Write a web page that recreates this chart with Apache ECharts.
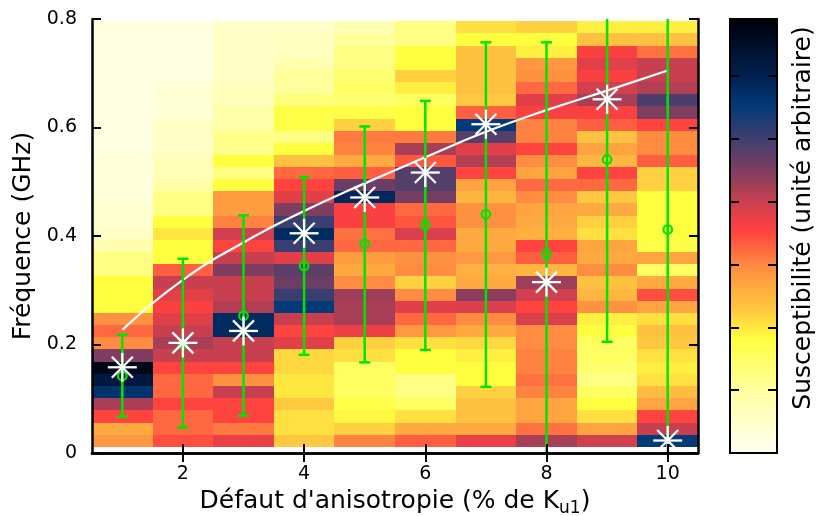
<!DOCTYPE html>
<html><head><meta charset="utf-8">
<script src="https://cdn.jsdelivr.net/npm/echarts@6/dist/echarts.min.js"></script>
<style>html,body{margin:0;padding:0;background:#fff}#c{width:816px;height:516px}</style>
</head><body><div id="c"></div>
<script>
// ---- data ----
const defects = [1, 2, 3, 4, 5, 6, 7, 8, 9, 10];
// heat-map row centres (GHz), listed from top row to bottom row
const freqRows = [0.785,0.762,0.740,0.718,0.695,0.673,0.650,0.628,0.605,0.583,0.561,0.538,0.516,0.494,0.471,0.449,0.426,0.404,0.381,0.359,0.337,0.314,0.292,0.269,0.247,0.224,0.202,0.180,0.157,0.135,0.112,0.090,0.067,0.045,0.022];
// susceptibility per column (arbitrary units 0..1), top row to bottom row
const col1  = [0.03,0.03,0.03,0.03,0.03,0.03,0.03,0.03,0.03,0.03,0.03,0.04,0.04,0.04,0.04,0.06,0.06,0.08,0.12,0.18,0.18,0.26,0.26,0.26,0.42,0.47,0.43,0.65,0.97,0.90,0.82,0.61,0.51,0.38,0.41];
const col2  = [0.03,0.03,0.03,0.03,0.03,0.05,0.05,0.05,0.08,0.08,0.08,0.10,0.10,0.13,0.18,0.18,0.26,0.29,0.26,0.26,0.48,0.58,0.55,0.52,0.55,0.58,0.61,0.58,0.51,0.47,0.47,0.51,0.47,0.47,0.50];
const col3  = [0.07,0.08,0.08,0.08,0.08,0.10,0.10,0.13,0.13,0.17,0.17,0.26,0.18,0.26,0.40,0.40,0.44,0.57,0.51,0.58,0.65,0.58,0.58,0.60,0.84,0.84,0.58,0.58,0.51,0.42,0.58,0.51,0.51,0.45,0.54];
const col4  = [0.07,0.09,0.09,0.12,0.15,0.15,0.19,0.25,0.25,0.18,0.26,0.34,0.47,0.51,0.55,0.65,0.73,0.84,0.73,0.55,0.69,0.67,0.73,0.80,0.58,0.51,0.55,0.31,0.31,0.29,0.29,0.33,0.30,0.30,0.33];
const col5  = [0.11,0.15,0.18,0.18,0.20,0.22,0.20,0.25,0.32,0.45,0.44,0.38,0.48,0.67,0.85,0.52,0.52,0.46,0.47,0.40,0.38,0.43,0.62,0.61,0.61,0.54,0.32,0.30,0.22,0.22,0.22,0.25,0.27,0.32,0.44];
const col6  = [0.18,0.18,0.26,0.26,0.32,0.28,0.22,0.26,0.26,0.45,0.61,0.49,0.70,0.70,0.66,0.47,0.49,0.56,0.47,0.42,0.43,0.32,0.43,0.55,0.47,0.41,0.30,0.26,0.26,0.18,0.18,0.22,0.30,0.38,0.48];
const col7  = [0.30,0.26,0.34,0.34,0.34,0.34,0.33,0.48,0.80,0.70,0.55,0.60,0.51,0.39,0.36,0.42,0.42,0.38,0.38,0.41,0.37,0.38,0.64,0.56,0.43,0.38,0.31,0.28,0.26,0.26,0.32,0.34,0.34,0.38,0.54];
const col8  = [0.32,0.26,0.28,0.41,0.42,0.47,0.55,0.52,0.44,0.44,0.51,0.43,0.39,0.47,0.43,0.39,0.38,0.37,0.51,0.48,0.36,0.62,0.57,0.51,0.56,0.43,0.43,0.44,0.44,0.46,0.44,0.39,0.39,0.46,0.61];
const col9  = [0.28,0.34,0.52,0.55,0.52,0.57,0.61,0.52,0.48,0.34,0.39,0.36,0.51,0.47,0.33,0.38,0.32,0.30,0.39,0.38,0.43,0.34,0.36,0.42,0.28,0.26,0.22,0.22,0.20,0.18,0.22,0.26,0.30,0.39,0.57];
const col10 = [0.28,0.34,0.46,0.58,0.58,0.60,0.71,0.65,0.51,0.43,0.43,0.48,0.32,0.32,0.26,0.26,0.26,0.26,0.25,0.39,0.22,0.38,0.50,0.39,0.30,0.34,0.33,0.30,0.28,0.30,0.35,0.39,0.51,0.58,0.80];
const columns = [col1,col2,col3,col4,col5,col6,col7,col8,col9,col10];

const fitLine  = [0.227,0.319,0.388,0.446,0.497,0.545,0.592,0.632,0.668,0.705];
const peakFreq = [0.158,0.203,0.225,0.405,0.471,0.517,0.606,0.315,0.652,0.023];
const meanFreq = [0.142,0.200,0.253,0.345,0.386,0.420,0.440,0.367,0.541,0.412];
const errLow   = [0.067,0.047,0.069,0.181,0.167,0.190,0.122,-0.10,0.205,-0.10];
const errHigh  = [0.218,0.358,0.438,0.509,0.602,0.649,0.757,0.757,0.950,0.950];
const xTickValues = [2, 4, 6, 8, 10];

// ---- styling ----
const ROW_H = 0.02244;
const GREEN = '#00e400';
const FONT = 'DejaVu Sans';
const stops = [
  [0.00,'#fffff2'],[0.145,'#ffffa0'],[0.26,'#ffff40'],[0.33,'#ffc840'],[0.43,'#ff8c40'],
  [0.515,'#ff4040'],[0.58,'#c84050'],[0.655,'#7a3e62'],[0.73,'#3a3e70'],[0.80,'#033a78'],
  [0.87,'#012050'],[1.00,'#000008']];
function hex(c){return [1,3,5].map(i=>parseInt(c.substr(i,2),16));}
function colorAt(p){
  for(let i=1;i<stops.length;i++){
    if(p<=stops[i][0]){
      const a=stops[i-1],b=stops[i],t=(p-a[0])/(b[0]-a[0]);
      const ca=hex(a[1]),cb=hex(b[1]);
      return 'rgb('+ca.map((v,k)=>Math.round(v+(cb[k]-v)*t)).join(',')+')';
    }
  }
  return stops[stops.length-1][1];
}
const palette=[];for(let i=0;i<=100;i++)palette.push(colorAt(i/100));

const heatData=[];
columns.forEach((col,ci)=>col.forEach((v,ri)=>heatData.push([defects[ci],freqRows[ri],v,ri])));
const errData=defects.map((d,i)=>[d,meanFreq[i],errLow[i],errHigh[i]]);
const starData=defects.map((d,i)=>[d,peakFreq[i]]);
const lineData=defects.map((d,i)=>[d,fitLine[i]]);

function rowTop(ri){return ri===0 ? freqRows[0]+ROW_H/2 : (freqRows[ri-1]+freqRows[ri])/2;}
function rowBottom(ri){return ri===freqRows.length-1 ? freqRows[ri]-ROW_H/2 : (freqRows[ri]+freqRows[ri+1])/2;}
function renderCell(params, api){
  const x=api.value(0), ri=api.value(3);
  const a=api.coord([x-0.5,rowTop(ri)]), b=api.coord([x+0.5,rowBottom(ri)]);
  const x0=Math.round(a[0]),y0=Math.round(a[1]),x1=Math.round(b[0]),y1=Math.round(b[1]);
  return {type:'rect',shape:{x:x0,y:y0,width:x1-x0,height:y1-y0},style:{fill:api.visual('color'),stroke:null}};
}
function renderErr(params, api){
  const x=api.value(0),m=api.value(1),lo=api.value(2),hi=api.value(3);
  const cl=v=>Math.max(0,Math.min(0.8,v));
  const pl=api.coord([x,cl(lo)]),ph=api.coord([x,cl(hi)]),pm=api.coord([x,m]);
  const st={stroke:GREEN,lineWidth:2.5};
  const ch=[{type:'line',shape:{x1:pl[0],y1:pl[1],x2:ph[0],y2:ph[1]},style:st}];
  if(lo>=0) ch.push({type:'line',shape:{x1:pl[0]-5.5,y1:pl[1],x2:pl[0]+5.5,y2:pl[1]},style:st});
  if(hi<=0.8) ch.push({type:'line',shape:{x1:ph[0]-5.5,y1:ph[1],x2:ph[0]+5.5,y2:ph[1]},style:st});
  ch.push({type:'circle',shape:{cx:pm[0],cy:pm[1],r:4.3},style:{fill:'none',stroke:GREEN,lineWidth:2.2}});
  return {type:'group',children:ch};
}
function renderStar(params, api){
  const p=api.coord([api.value(0),api.value(1)]);
  const s={stroke:'#fff',lineWidth:2.3};
  const h=14.5,d=10.5;
  return {type:'group',children:[
    {type:'line',shape:{x1:p[0]-h,y1:p[1],x2:p[0]+h,y2:p[1]},style:s},
    {type:'line',shape:{x1:p[0],y1:p[1]-h,x2:p[0],y2:p[1]+h},style:s},
    {type:'line',shape:{x1:p[0]-d,y1:p[1]-d,x2:p[0]+d,y2:p[1]+d},style:s},
    {type:'line',shape:{x1:p[0]-d,y1:p[1]+d,x2:p[0]+d,y2:p[1]-d},style:s}
  ]};
}

const axisLine={show:true,lineStyle:{color:'#000',width:2.5}};
const tickStyle={color:'#000',width:2};
const chart=echarts.init(document.getElementById('c'),null,{renderer:'canvas'});
chart.setOption({
  animation:false,
  backgroundColor:'#fff',
  textStyle:{fontFamily:FONT},
  grid:[
    {left:92,top:19,width:606,height:434,containLabel:false,outerBoundsMode:'none'},
    {left:730,top:19,width:47,height:434,show:true,borderColor:'#000',borderWidth:2,backgroundColor:'transparent',z:10,containLabel:false,outerBoundsMode:'none'}
  ],
  xAxis:[
    {gridIndex:0,type:'value',min:0.5,max:10.5,position:'bottom',z:10,axisLine,
     axisTick:{inside:true,length:9,customValues:xTickValues,lineStyle:tickStyle},
     axisLabel:{customValues:xTickValues,fontSize:19,color:'#000',margin:12,fontFamily:FONT},
     splitLine:{show:false},
     name:"Défaut d'anisotropie (% de K{sub|u1})",nameLocation:'middle',nameGap:31,
     nameTextStyle:{fontSize:25,color:'#000',fontFamily:FONT,
       rich:{sub:{fontSize:17,fontFamily:FONT,color:'#000',verticalAlign:'bottom',padding:[0,0,-3,0]}}}},
    {gridIndex:0,type:'value',min:0.5,max:10.5,position:'top',z:10,axisLine,
     axisTick:{inside:true,length:9,customValues:xTickValues,lineStyle:tickStyle},
     axisLabel:{show:false},splitLine:{show:false}},
    {gridIndex:1,type:'value',min:0,max:1,show:false}
  ],
  yAxis:[
    {gridIndex:0,type:'value',min:0,max:0.8,interval:0.2,position:'left',z:10,axisLine,
     axisTick:{inside:true,length:9,lineStyle:tickStyle},
     axisLabel:{fontSize:19,color:'#000',margin:15,fontFamily:FONT},
     splitLine:{show:false},
     name:'Fréquence (GHz)',nameLocation:'middle',nameGap:50,
     nameTextStyle:{fontSize:25,color:'#000',fontFamily:FONT}},
    {gridIndex:0,type:'value',min:0,max:0.8,interval:0.2,position:'right',z:10,axisLine,
     axisTick:{inside:true,length:9,lineStyle:tickStyle},axisLabel:{show:false},splitLine:{show:false}},
    {gridIndex:1,type:'value',min:0,max:6.91,interval:1,position:'left',z:10,axisLine:{show:false},
     axisTick:{inside:true,length:9,lineStyle:tickStyle},axisLabel:{show:false},splitLine:{show:false}},
    {gridIndex:1,type:'value',min:0,max:6.91,interval:1,position:'right',z:10,axisLine:{show:false},
     axisTick:{inside:true,length:9,lineStyle:tickStyle},axisLabel:{show:false},splitLine:{show:false}}
  ],
  visualMap:{type:'continuous',min:0,max:1,dimension:2,seriesIndex:0,calculable:false,
    left:730,top:19,itemWidth:47,itemHeight:434,padding:0,text:null,
    inRange:{color:palette}},
  graphic:[{type:'text',x:803,y:218,rotation:Math.PI/2,
    style:{text:'Susceptibilité (unité arbitraire)',font:'25px "DejaVu Sans"',fill:'#000',
      textAlign:'center',textVerticalAlign:'middle'}}],
  series:[
    {type:'custom',xAxisIndex:0,yAxisIndex:0,data:heatData,renderItem:renderCell,clip:true,z:1,
     encode:{x:0,y:1}},
    {type:'line',xAxisIndex:0,yAxisIndex:0,data:lineData,smooth:true,symbol:'none',z:3,
     lineStyle:{color:'#fff',width:2.2}},
    {type:'custom',xAxisIndex:0,yAxisIndex:0,data:errData,renderItem:renderErr,clip:true,z:4,
     encode:{x:0,y:1}},
    {type:'custom',xAxisIndex:0,yAxisIndex:0,data:starData,renderItem:renderStar,clip:true,z:5,
     encode:{x:0,y:1}}
  ]
});
</script></body></html>
